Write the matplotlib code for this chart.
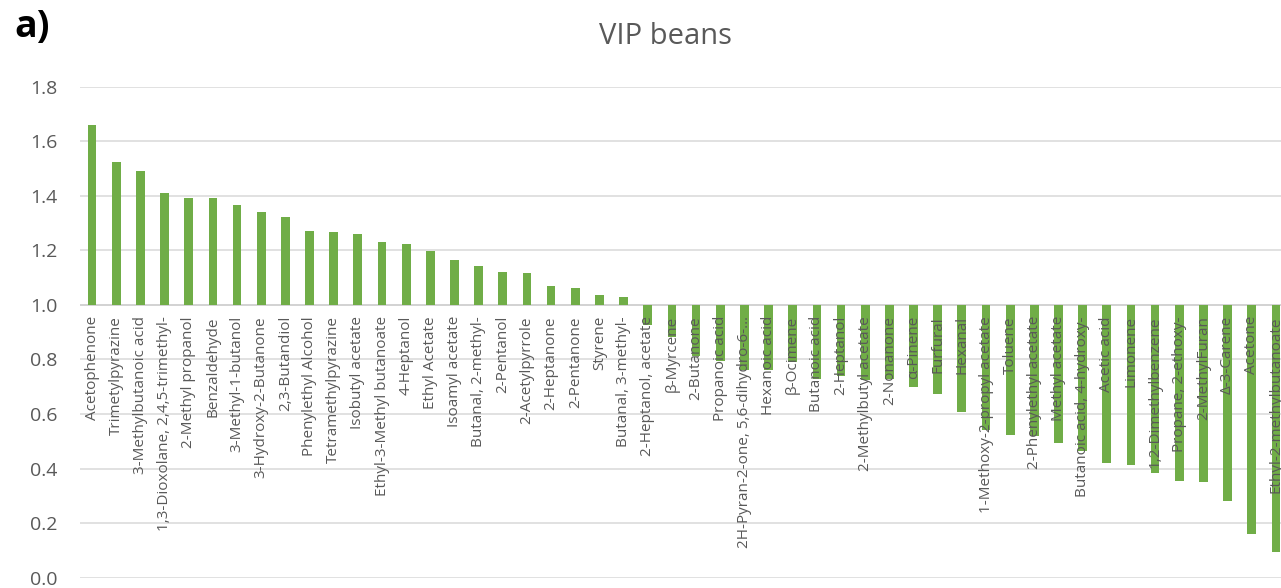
import matplotlib.pyplot as plt
import numpy as np

plt.rcParams['font.family'] = ['Open Sans', 'DejaVu Sans']

compounds = [
    "Acetophenone", "Trimetylpyrazine", "3-Methylbutanoic acid",
    "1,3-Dioxolane, 2,4,5-trimethyl-", "2-Methyl propanol", "Benzaldehyde",
    "3-Methyl-1-butanol", "3-Hydroxy-2-Butanone", "2,3-Butandiol",
    "Phenylethyl Alcohol", "Tetramethylpyrazine", "Isobutyl acetate",
    "Ethyl-3-Methyl butanoate", "4-Heptanol", "Ethyl Acetate",
    "Isoamyl acetate", "Butanal, 2-methyl-", "2-Pentanol", "2-Acetylpyrrole",
    "2-Heptanone", "2-Pentanone", "Styrene", "Butanal, 3-methyl-",
    "2-Heptanol, acetate", "β-Myrcene", "2-Butanone", "Propanoic acid",
    "2H-Pyran-2-one, 5,6-dihydro-6-…", "Hexanoic acid", "β-Ocimene",
    "Butanoic acid", "2-Heptanol", "2-Methylbutyl acetate", "2-Nonanone",
    "α-Pinene", "Furfural", "Hexanal", "1-Methoxy-2-propyl acetate",
    "Toluene", "2-Phenylethyl acetate", "Methyl acetate",
    "Butanoic acid, 4-hydroxy-", "Acetic acid", "Limonene",
    "1,2-Dimethylbenzene", "Propane, 2-ethoxy-", "2-MethylFuran",
    "Δ-3-Carene", "Acetone", "Ethyl-2-methylbutanoate",
]
vip = [
    1.658, 1.523, 1.492, 1.410, 1.391, 1.391, 1.366, 1.340, 1.322, 1.270,
    1.266, 1.261, 1.232, 1.225, 1.196, 1.166, 1.144, 1.122, 1.117, 1.069,
    1.061, 1.035, 1.030,
    0.927, 0.884, 0.812, 0.795, 0.762, 0.762, 0.790, 0.730, 0.740, 0.725,
    0.730, 0.700, 0.674, 0.606, 0.540, 0.524, 0.520, 0.494, 0.463, 0.420,
    0.414, 0.383, 0.356, 0.352, 0.282, 0.160, 0.095,
]

W, H = 1281, 588
fig = plt.figure(figsize=(W / 100, H / 100), dpi=100)
# plot area runs past the right edge, as in the cropped original
ax = fig.add_axes([80 / W, 1 - 577.7 / H, 1208 / W, (577.7 - 86.7) / H])

x = np.arange(len(compounds))
vals = np.array(vip)
ax.bar(x, vals - 1.0, bottom=1.0, width=0.36, color='#70AD47', zorder=3)

ax.set_xlim(-0.5, len(compounds) - 0.5)
ax.set_ylim(0, 1.8)
ax.set_yticks(np.arange(0, 1.81, 0.2))
ax.set_yticklabels([f"{v:.1f}" for v in np.arange(0, 1.81, 0.2)])
ax.yaxis.grid(True, color='#D9D9D9', linewidth=1.1, zorder=0)
ax.axhline(1.0, color='#D0D0D0', linewidth=1.1, zorder=2)
ax.set_xticks([])
for s in ax.spines.values():
    s.set_visible(False)
ax.tick_params(axis='y', length=0, pad=16, labelsize=14, labelcolor='#595959')

for i, name in enumerate(compounds):
    ax.annotate(name, (i, 1.0), xytext=(0, -8), textcoords='offset points',
                rotation=90, ha='center', va='top', fontsize=11,
                color='#595959', zorder=4)

fig.text(665 / W, 1 - 36 / H, "VIP beans", ha='center', va='center',
         fontsize=21, color='#595959')
fig.text(14 / W, 1 - 27 / H, "a)", ha='left', va='center',
         fontsize=27, fontweight='bold', color='black')

fig.savefig("out.png", dpi=100)
